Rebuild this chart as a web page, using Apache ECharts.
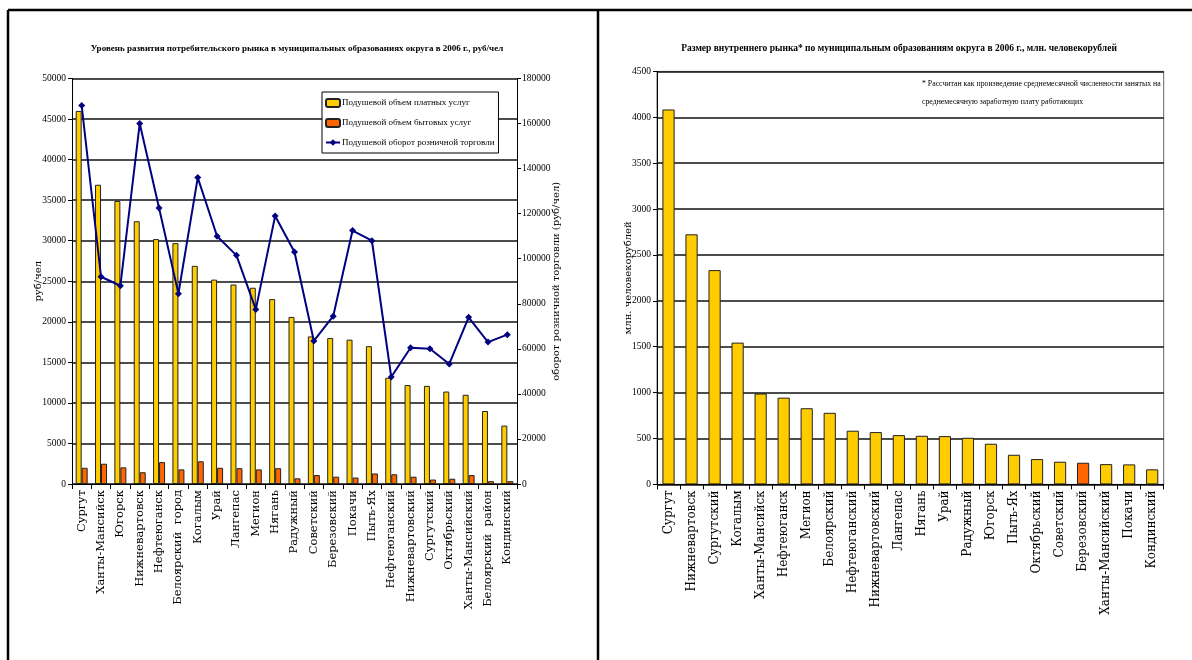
<!DOCTYPE html>
<html>
<head>
<meta charset="utf-8">
<script src="https://cdn.jsdelivr.net/npm/echarts@6/dist/echarts.min.js"></script>
<style>
  html, body { margin: 0; padding: 0; background: #fff; }
  #chart { width: 1192px; height: 660px; }
</style>
</head>
<body>
<div id="chart"></div>
<script>
// Left panel: per-capita consumer market indicators by municipality, 2006
const leftCategories = ['Сургут', 'Ханты-Мансийск', 'Югорск', 'Нижневартовск', 'Нефтеюганск',
  'Белоярский  город', 'Когалым', 'Урай', 'Лангепас', 'Мегион', 'Нягань', 'Радужный', 'Советский',
  'Березовский', 'Покачи', 'Пыть-Ях', 'Нефтеюганский', 'Нижневартовский', 'Сургутский',
  'Октябрьский', 'Ханты-Мансийский', 'Белоярский  район', 'Кондинский'];
const paidServices = [46000, 36900, 34900, 32400, 30200, 29700, 26900, 25200, 24600, 24200, 22800,
  20600, 18200, 18000, 17800, 17000, 13100, 12200, 12100, 11400, 11000, 9000, 7200];
const householdServices = [2000, 2500, 2050, 1450, 2700, 1800, 2800, 2000, 1950, 1800, 1950,
  700, 1100, 900, 800, 1300, 1200, 900, 550, 650, 1100, 350, 350];
const retailTurnover = [168000, 92000, 88000, 160000, 122500, 84500, 136000, 110000, 101500, 77500,
  119000, 103000, 63500, 74500, 112500, 108000, 47500, 60500, 60000, 53300, 74000, 63000, 66300];
const seriesNames = ['Подушевой объем платных услуг', 'Подушевой объем бытовых услуг',
  'Подушевой оборот розничной торговли'];

// Right panel: size of the internal market, mln person-roubles
const marketCategories = ['Сургут', 'Нижневартовск', 'Сургутский', 'Когалым', 'Ханты-Мансийск',
  'Нефтеюганск', 'Мегион', 'Белоярский', 'Нефтеюганский', 'Нижневартовский', 'Лангепас', 'Нягань',
  'Урай', 'Радужный', 'Югорск', 'Пыть-Ях', 'Октябрьский', 'Советский', 'Березовский',
  'Ханты-Мансийский', 'Покачи', 'Кондинский'];
const marketSize = [4085, 2725, 2335, 1545, 990, 945, 830, 780, 585, 570, 537, 530, 526, 508, 443,
  323, 276, 247, 236, 221, 218, 164];
const highlighted = 'Березовский';

const leftTitle = 'Уровень развития потребительского рынка в муниципальных образованиях округа в 2006 г., руб/чел';
const rightTitle = 'Размер внутреннего рынка* по муниципальным образованиям округа в 2006 г., млн. человекорублей';
const noteLines = ['* Рассчитан как произведение среднемесячной численности занятых на',
  'среднемесячную заработную плату работающих'];

const YELLOW = '#FFCC00';
const ORANGE = '#FF6600';
const NAVY = '#000080';
const SERIF = '"Liberation Serif", "Times New Roman", serif';
const WIDE_SERIF = '"DejaVu Serif", serif';

const plain = v => String(v);
const tickLabel = { fontFamily: SERIF, fontSize: 9.5, color: '#000', formatter: plain };
const gridLine = { show: true, lineStyle: { color: '#111', width: 1.5 } };
const axisLine = { show: true, lineStyle: { color: '#000', width: 1 } };
const axisTick = { show: true, inside: false, length: 4, lineStyle: { color: '#000' } };
const axisName = { fontFamily: WIDE_SERIF, fontSize: 10, color: '#000' };

const chart = echarts.init(document.getElementById('chart'), null, { renderer: 'canvas' });

chart.setOption({
  animation: false,
  backgroundColor: '#fff',
  title: [
    { text: leftTitle, left: 292, top: 39, textAlign: 'center',
      textStyle: { fontFamily: SERIF, fontWeight: 'bold', fontSize: 9, color: '#000' } },
    { text: rightTitle, left: 894, top: 39, textAlign: 'center',
      textStyle: { fontFamily: SERIF, fontWeight: 'bold', fontSize: 9.5, color: '#000' } }
  ],
  legend: {
    data: seriesNames,
    orient: 'vertical',
    left: 322, top: 92,
    width: 154, height: 62,
    padding: [6, 4, 6, 3],
    itemGap: 10,
    itemWidth: 14, itemHeight: 8,
    backgroundColor: '#fff',
    borderColor: '#000', borderWidth: 1,
    textStyle: { fontFamily: SERIF, fontSize: 9, color: '#000', padding: [0, 0, 0, -3] },
    selectedMode: false
  },
  grid: [
    { left: 72, top: 78.5, width: 445, height: 405.5, containLabel: false },
    { left: 657, top: 71.4, width: 506.7, height: 413, containLabel: false,
      show: true, borderColor: '#666', borderWidth: 1 }
  ],
  xAxis: [
    { type: 'category', gridIndex: 0, data: leftCategories, boundaryGap: true,
      axisLine, axisTick: { ...axisTick, length: 5, alignWithLabel: false },
      axisLabel: { rotate: 90, interval: 0, margin: 6, fontFamily: WIDE_SERIF, fontSize: 11.5, color: '#000' },
      splitLine: { show: false } },
    { type: 'category', gridIndex: 1, data: marketCategories, boundaryGap: true,
      axisLine, axisTick: { ...axisTick, length: 5, alignWithLabel: false },
      axisLabel: { rotate: 90, interval: 0, margin: 6, fontFamily: WIDE_SERIF, fontSize: 12, color: '#000' },
      splitLine: { show: false } }
  ],
  yAxis: [
    { type: 'value', gridIndex: 0, min: 0, max: 50000, interval: 5000, position: 'left',
      name: 'руб/чел', nameLocation: 'middle', nameGap: 29, nameRotate: 90, nameMoveOverlap: false,
      nameTextStyle: axisName,
      axisLine, axisTick, axisLabel: { ...tickLabel, margin: 6 }, splitLine: gridLine },
    { type: 'value', gridIndex: 0, min: 0, max: 180000, interval: 20000, position: 'right',
      name: 'оборот розничной торговли (руб/чел)', nameLocation: 'middle', nameGap: 34, nameRotate: 90,
      nameMoveOverlap: false, nameTextStyle: axisName,
      axisLine, axisTick, axisLabel: { ...tickLabel, margin: 5 }, splitLine: { show: false } },
    { type: 'value', gridIndex: 1, min: 0, max: 4500, interval: 500, position: 'left',
      name: 'млн. человекорублей', nameLocation: 'middle', nameGap: 24, nameRotate: 90,
      nameMoveOverlap: false, nameTextStyle: axisName,
      axisLine, axisTick, axisLabel: { ...tickLabel, margin: 6 }, splitLine: gridLine }
  ],
  series: [
    { name: seriesNames[0], type: 'bar', xAxisIndex: 0, yAxisIndex: 0, data: paidServices,
      barGap: '0%', barCategoryGap: '38%',
      itemStyle: { color: YELLOW, borderColor: '#222', borderWidth: 1 } },
    { name: seriesNames[1], type: 'bar', xAxisIndex: 0, yAxisIndex: 0, data: householdServices,
      barGap: '0%', barCategoryGap: '38%',
      itemStyle: { color: ORANGE, borderColor: '#222', borderWidth: 1 } },
    { name: seriesNames[2], type: 'line', xAxisIndex: 0, yAxisIndex: 1, data: retailTurnover,
      symbol: 'diamond', symbolSize: 7, showSymbol: true,
      lineStyle: { color: NAVY, width: 2 }, itemStyle: { color: NAVY } },
    { name: 'Размер внутреннего рынка', type: 'bar', xAxisIndex: 1, yAxisIndex: 2,
      barCategoryGap: '47%',
      data: marketSize.map((v, i) => marketCategories[i] === highlighted
        ? { value: v, itemStyle: { color: ORANGE } } : v),
      itemStyle: { color: YELLOW, borderColor: '#222', borderWidth: 1 } }
  ],
  graphic: [
    // Table frame around the two panels
    { type: 'line', shape: { x1: 8, y1: 10, x2: 1192, y2: 10 }, style: { stroke: '#000', lineWidth: 2.5 } },
    { type: 'line', shape: { x1: 8, y1: 10, x2: 8, y2: 660 }, style: { stroke: '#000', lineWidth: 2.5 } },
    { type: 'line', shape: { x1: 598, y1: 10, x2: 598, y2: 660 }, style: { stroke: '#000', lineWidth: 2.5 } },
    // Footnote inside the right panel
    { type: 'text', left: 922, top: 80, z: 10,
      style: { text: noteLines[0], font: '7.8px ' + SERIF, fill: '#000' } },
    { type: 'text', left: 922, top: 98, z: 10,
      style: { text: noteLines[1], font: '7.8px ' + SERIF, fill: '#000' } }
  ]
});
</script>
</body>
</html>
